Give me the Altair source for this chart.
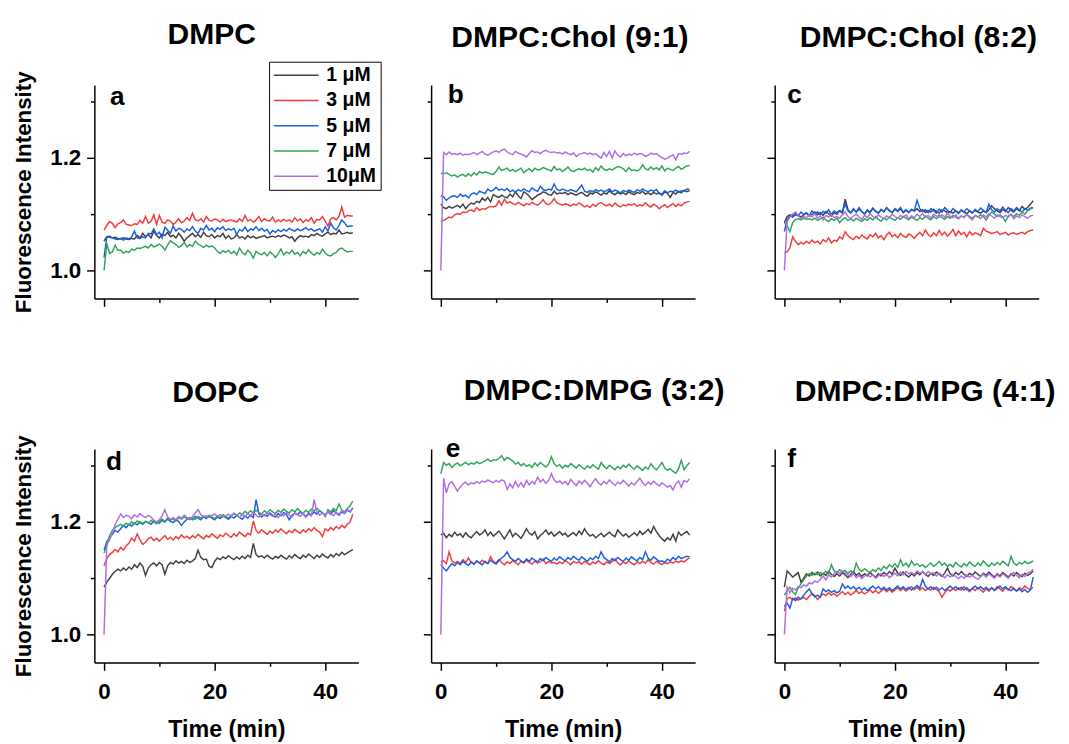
import altair as alt
import pandas as pd

FONT = "Liberation Sans"

TIME_MIN = [0, 0.5, 1, 1.5, 2, 2.5, 3, 3.5, 4, 4.5,
            5, 5.5, 6, 6.5, 7, 7.5, 8, 8.5, 9, 9.5,
            10, 10.5, 11, 11.5, 12, 12.5, 13, 13.5, 14, 14.5,
            15, 15.5, 16, 16.5, 17, 17.5, 18, 18.5, 19, 19.5,
            20, 20.5, 21, 21.5, 22, 22.5, 23, 23.5, 24, 24.5,
            25, 25.5, 26, 26.5, 27, 27.5, 28, 28.5, 29, 29.5,
            30, 30.5, 31, 31.5, 32, 32.5, 33, 33.5, 34, 34.5,
            35, 35.5, 36, 36.5, 37, 37.5, 38, 38.5, 39, 39.5,
            40, 40.5, 41, 41.5, 42, 42.5, 43, 43.5, 44, 44.5, 45]

CONCS = ["1 μM", "3 μM", "5 μM", "7 μM", "10μM"]
COLORS = ["#404040", "#f03c3c", "#1a5fe0", "#2ea55a", "#b06de0"]

PANEL_KEYS = ["a", "b", "c", "d", "e", "f"]
PANEL_TITLES = ["DMPC", "DMPC:Chol (9:1)", "DMPC:Chol (8:2)",
                "DOPC", "DMPC:DMPG (3:2)", "DMPC:DMPG (4:1)"]
Y_TICKS = [1.0, 1.1, 1.2, 1.3]
X_TICKS = [0, 10, 20, 30, 40]

# ---- panel a : DMPC ----
A_1UM = [1.052, 1.060, 1.061, 1.058, 1.059, 1.057, 1.056, 1.058, 1.056, 1.055,
         1.057, 1.056, 1.062, 1.058, 1.066, 1.060, 1.064, 1.058, 1.070, 1.062,
         1.058, 1.065, 1.062, 1.068, 1.060, 1.063, 1.058, 1.066, 1.060, 1.052,
         1.058, 1.062, 1.066, 1.060, 1.064, 1.059, 1.068, 1.062, 1.060, 1.064,
         1.058, 1.062, 1.060, 1.066, 1.057, 1.062, 1.056, 1.058, 1.064, 1.058,
         1.060, 1.056, 1.062, 1.058, 1.061, 1.057, 1.059, 1.060, 1.062, 1.058,
         1.060, 1.061, 1.059, 1.062, 1.060, 1.063, 1.061, 1.058, 1.060, 1.052,
         1.058, 1.062, 1.060, 1.061, 1.059, 1.064, 1.062, 1.066, 1.063, 1.061,
         1.065, 1.068, 1.064, 1.066, 1.065, 1.072, 1.065, 1.066, 1.068, 1.066, 1.067]
A_3UM = [1.072, 1.080, 1.087, 1.084, 1.076, 1.083, 1.085, 1.090, 1.082, 1.081,
         1.080, 1.083, 1.082, 1.089, 1.084, 1.096, 1.084, 1.087, 1.099, 1.082,
         1.098, 1.086, 1.084, 1.090, 1.088, 1.082, 1.086, 1.092, 1.085, 1.088,
         1.094, 1.089, 1.102, 1.090, 1.088, 1.092, 1.086, 1.096, 1.089, 1.088,
         1.092, 1.090, 1.086, 1.091, 1.087, 1.089, 1.090, 1.088, 1.086, 1.092,
         1.087, 1.098, 1.088, 1.091, 1.086, 1.090, 1.096, 1.087, 1.092, 1.089,
         1.088, 1.095, 1.086, 1.090, 1.087, 1.091, 1.088, 1.090, 1.086, 1.094,
         1.088, 1.092, 1.085, 1.090, 1.088, 1.094, 1.084, 1.091, 1.090, 1.096,
         1.088, 1.079, 1.092, 1.094, 1.090, 1.096, 1.113, 1.095, 1.098, 1.097, 1.097]
A_5UM = [1.023, 1.060, 1.059, 1.058, 1.056, 1.055, 1.057, 1.054, 1.058, 1.056,
         1.060, 1.070, 1.058, 1.057, 1.060, 1.058, 1.066, 1.065, 1.074, 1.064,
         1.068, 1.058, 1.077, 1.072, 1.066, 1.079, 1.070, 1.075, 1.073, 1.068,
         1.074, 1.071, 1.078, 1.070, 1.066, 1.075, 1.072, 1.080, 1.072, 1.075,
         1.069, 1.076, 1.073, 1.078, 1.071, 1.074, 1.072, 1.075, 1.064, 1.073,
         1.070, 1.077, 1.069, 1.074, 1.072, 1.078, 1.071, 1.075, 1.070, 1.073,
         1.065, 1.071, 1.068, 1.072, 1.069, 1.073, 1.070, 1.075, 1.072, 1.070,
         1.074, 1.071, 1.073, 1.076, 1.072, 1.074, 1.070, 1.072, 1.074, 1.068,
         1.078, 1.070, 1.084, 1.076, 1.072, 1.080, 1.090, 1.085, 1.078, 1.079, 1.079]
A_7UM = [1.000, 1.048, 1.030, 1.033, 1.045, 1.036, 1.036, 1.031, 1.034, 1.032,
         1.038, 1.036, 1.040, 1.039, 1.041, 1.043, 1.040, 1.046, 1.042, 1.044,
         1.047, 1.043, 1.036, 1.045, 1.053, 1.049, 1.046, 1.041, 1.044, 1.050,
         1.042, 1.046, 1.043, 1.052, 1.047, 1.044, 1.041, 1.045, 1.042, 1.044,
         1.040, 1.034, 1.030, 1.035, 1.032, 1.036, 1.030, 1.034, 1.028, 1.040,
         1.032, 1.028, 1.036, 1.031, 1.022, 1.034, 1.030, 1.028, 1.032, 1.026,
         1.033, 1.029, 1.023, 1.030, 1.038, 1.028, 1.033, 1.030, 1.036, 1.029,
         1.032, 1.026, 1.034, 1.030, 1.037, 1.031, 1.027, 1.032, 1.029, 1.038,
         1.031, 1.027, 1.026, 1.030, 1.032, 1.038, 1.040, 1.036, 1.033, 1.034, 1.034]

# ---- panel b : DMPC:Chol (9:1) ----
B_1UM = [1.118, 1.112, 1.110, 1.114, 1.111, 1.113, 1.116, 1.112, 1.118, 1.110,
         1.116, 1.120, 1.118, 1.123, 1.121, 1.129, 1.124, 1.130, 1.122, 1.135,
         1.132, 1.130, 1.134, 1.131, 1.129, 1.136, 1.131, 1.140, 1.133, 1.128,
         1.140, 1.137, 1.132, 1.126, 1.130, 1.134, 1.136, 1.140, 1.138, 1.135,
         1.134, 1.141, 1.136, 1.138, 1.137, 1.139, 1.135, 1.138, 1.136, 1.134,
         1.137, 1.139, 1.135, 1.132, 1.138, 1.136, 1.140, 1.137, 1.134, 1.138,
         1.136, 1.142, 1.137, 1.135, 1.139, 1.136, 1.138, 1.135, 1.140, 1.137,
         1.135, 1.139, 1.137, 1.141, 1.136, 1.138, 1.135, 1.139, 1.136, 1.138,
         1.134, 1.140, 1.137, 1.130, 1.139, 1.136, 1.141, 1.138, 1.143, 1.140, 1.142]
B_3UM = [1.087, 1.089, 1.092, 1.095, 1.094, 1.099, 1.101, 1.100, 1.104, 1.103,
         1.106, 1.108, 1.105, 1.112, 1.107, 1.110, 1.109, 1.112, 1.114, 1.113,
         1.115, 1.124, 1.116, 1.127, 1.120, 1.122, 1.119, 1.117, 1.121, 1.118,
         1.115, 1.119, 1.117, 1.121, 1.118, 1.116, 1.120, 1.126, 1.119, 1.117,
         1.121, 1.128, 1.120, 1.118, 1.116, 1.119, 1.117, 1.115, 1.118, 1.116,
         1.120, 1.117, 1.113, 1.116, 1.112, 1.118, 1.114, 1.119, 1.121, 1.117,
         1.115, 1.118, 1.114, 1.120, 1.116, 1.113, 1.117, 1.115, 1.118, 1.116,
         1.119, 1.114, 1.117, 1.115, 1.120, 1.116, 1.113, 1.118, 1.115, 1.110,
         1.114, 1.117, 1.112, 1.116, 1.119, 1.114, 1.118, 1.115, 1.120, 1.122, 1.123]
B_5UM = [1.133, 1.131, 1.125, 1.129, 1.132, 1.133, 1.130, 1.136, 1.132, 1.134,
         1.129, 1.136, 1.138, 1.135, 1.141, 1.139, 1.137, 1.145, 1.141, 1.143,
         1.148, 1.143, 1.145, 1.142, 1.146, 1.140, 1.143, 1.139, 1.144, 1.141,
         1.145, 1.142, 1.140, 1.147, 1.143, 1.141, 1.150, 1.144, 1.142, 1.145,
         1.143, 1.154, 1.144, 1.142, 1.145, 1.143, 1.141, 1.144, 1.142, 1.140,
         1.146, 1.152, 1.141, 1.139, 1.142, 1.140, 1.144, 1.141, 1.143, 1.140,
         1.142, 1.145, 1.140, 1.143, 1.141, 1.138, 1.142, 1.140, 1.143, 1.141,
         1.139, 1.144, 1.141, 1.145, 1.142, 1.140, 1.143, 1.141, 1.144, 1.137,
         1.136, 1.142, 1.138, 1.141, 1.140, 1.143, 1.139, 1.142, 1.141, 1.145, 1.144]
B_7UM = [1.173, 1.172, 1.174, 1.171, 1.168, 1.170, 1.166, 1.169, 1.171, 1.167,
         1.172, 1.168, 1.174, 1.170, 1.176, 1.173, 1.175, 1.174, 1.172, 1.171,
         1.176, 1.184, 1.178, 1.180, 1.182, 1.177, 1.180, 1.176, 1.179, 1.182,
         1.174, 1.178, 1.181, 1.176, 1.182, 1.179, 1.180, 1.183, 1.181, 1.179,
         1.177, 1.185, 1.179, 1.181, 1.176, 1.180, 1.184, 1.178, 1.176, 1.179,
         1.181, 1.179, 1.182, 1.178, 1.180, 1.175, 1.183, 1.178, 1.186, 1.180,
         1.178, 1.181, 1.179, 1.182, 1.185, 1.184, 1.181, 1.176, 1.183, 1.178,
         1.179, 1.177, 1.180, 1.188, 1.181, 1.179, 1.184, 1.180, 1.183, 1.179,
         1.186, 1.177, 1.182, 1.180, 1.178, 1.182, 1.185, 1.180, 1.183, 1.186, 1.187]
B_10UM = [1.000, 1.210, 1.206, 1.211, 1.207, 1.208, 1.206, 1.209, 1.205, 1.207,
          1.206, 1.208, 1.210, 1.206, 1.209, 1.212, 1.207, 1.205, 1.208, 1.211,
          1.213, 1.210, 1.214, 1.216, 1.211, 1.208, 1.206, 1.212, 1.209, 1.207,
          1.205, 1.202, 1.208, 1.213, 1.210, 1.211, 1.208, 1.212, 1.214, 1.211,
          1.210, 1.211, 1.209, 1.210, 1.207, 1.211, 1.208, 1.206, 1.209, 1.203,
          1.207, 1.208, 1.210, 1.207, 1.209, 1.206, 1.208, 1.204, 1.200, 1.210,
          1.203, 1.212, 1.200, 1.213, 1.205, 1.202, 1.208, 1.204, 1.207, 1.205,
          1.209, 1.206, 1.208, 1.207, 1.203, 1.205, 1.209, 1.207, 1.208, 1.204,
          1.201, 1.198, 1.200, 1.203, 1.206, 1.197, 1.208, 1.207, 1.209, 1.208, 1.212]

# ---- panel c : DMPC:Chol (8:2) ----
C_1UM = [1.085, 1.096, 1.099, 1.097, 1.101, 1.098, 1.095, 1.099, 1.102, 1.097,
         1.100, 1.104, 1.099, 1.103, 1.098, 1.105, 1.101, 1.097, 1.103, 1.100,
         1.106, 1.102, 1.127, 1.108, 1.103, 1.110, 1.104, 1.109, 1.105, 1.101,
         1.107, 1.103, 1.111, 1.105, 1.102, 1.108, 1.104, 1.112, 1.106, 1.103,
         1.109, 1.105, 1.110, 1.103, 1.107, 1.104, 1.108, 1.106, 1.110, 1.105,
         1.108, 1.103, 1.107, 1.104, 1.109, 1.105, 1.102, 1.108, 1.106, 1.103,
         1.105, 1.102, 1.106, 1.103, 1.107, 1.104, 1.101, 1.106, 1.103, 1.107,
         1.104, 1.102, 1.106, 1.103, 1.108, 1.115, 1.110, 1.106, 1.103, 1.109,
         1.105, 1.112, 1.107, 1.104, 1.110, 1.106, 1.114, 1.109, 1.112, 1.118, 1.124]
C_3UM = [1.032, 1.033, 1.040, 1.060, 1.052, 1.046, 1.050, 1.047, 1.052, 1.048,
         1.054, 1.049, 1.052, 1.047, 1.055, 1.051, 1.058, 1.049, 1.054, 1.052,
         1.060, 1.056, 1.069, 1.062, 1.058, 1.055, 1.061, 1.057, 1.063, 1.059,
         1.056, 1.064, 1.060, 1.066, 1.058, 1.062, 1.055, 1.063, 1.068, 1.060,
         1.064, 1.058, 1.066, 1.061, 1.059, 1.065, 1.062, 1.057, 1.063, 1.068,
         1.062, 1.072, 1.064, 1.060, 1.067, 1.062, 1.071, 1.063, 1.068, 1.061,
         1.066, 1.073, 1.062, 1.070, 1.064, 1.068, 1.060, 1.069, 1.063, 1.067,
         1.065, 1.062, 1.075, 1.070, 1.068, 1.066, 1.067, 1.069, 1.064, 1.066,
         1.068, 1.063, 1.066, 1.067, 1.064, 1.066, 1.068, 1.065, 1.069, 1.071, 1.072]
C_5UM = [1.069, 1.090, 1.098, 1.095, 1.099, 1.097, 1.104, 1.100, 1.103, 1.098,
         1.106, 1.101, 1.104, 1.099, 1.105, 1.102, 1.108, 1.100, 1.106, 1.103,
         1.107, 1.104, 1.118, 1.106, 1.102, 1.109, 1.104, 1.112, 1.105, 1.100,
         1.108, 1.104, 1.110, 1.106, 1.102, 1.109, 1.105, 1.111, 1.107, 1.103,
         1.110, 1.106, 1.112, 1.104, 1.108, 1.103, 1.109, 1.106, 1.125, 1.110,
         1.105, 1.108, 1.103, 1.110, 1.106, 1.102, 1.109, 1.104, 1.112, 1.107,
         1.103, 1.110, 1.106, 1.101, 1.108, 1.104, 1.110, 1.106, 1.102, 1.109,
         1.105, 1.111, 1.107, 1.103, 1.118, 1.108, 1.104, 1.110, 1.106, 1.113,
         1.107, 1.103, 1.110, 1.106, 1.112, 1.108, 1.104, 1.110, 1.107, 1.111, 1.112]
C_7UM = [1.084, 1.080, 1.069, 1.085, 1.091, 1.092, 1.090, 1.093, 1.091, 1.092,
         1.090, 1.093, 1.089, 1.092, 1.095, 1.090, 1.087, 1.092, 1.089, 1.093,
         1.085, 1.091, 1.094, 1.089, 1.092, 1.088, 1.093, 1.090, 1.087, 1.092,
         1.089, 1.094, 1.090, 1.096, 1.091, 1.088, 1.093, 1.090, 1.095, 1.092,
         1.089, 1.094, 1.091, 1.096, 1.093, 1.090, 1.095, 1.092, 1.089, 1.094,
         1.091, 1.097, 1.093, 1.090, 1.096, 1.092, 1.099, 1.094, 1.091, 1.096,
         1.093, 1.098, 1.095, 1.092, 1.097, 1.094, 1.100, 1.096, 1.093, 1.098,
         1.095, 1.099, 1.096, 1.090, 1.098, 1.104, 1.100, 1.096, 1.099, 1.095,
         1.087, 1.097, 1.100, 1.096, 1.101, 1.098, 1.104, 1.100, 1.106, 1.109, 1.112]
C_10UM = [1.000, 1.087, 1.095, 1.100, 1.104, 1.098, 1.092, 1.096, 1.094, 1.099,
          1.095, 1.101, 1.093, 1.097, 1.090, 1.098, 1.095, 1.100, 1.094, 1.096,
          1.093, 1.099, 1.104, 1.096, 1.092, 1.097, 1.100, 1.095, 1.091, 1.098,
          1.094, 1.101, 1.096, 1.093, 1.099, 1.095, 1.092, 1.097, 1.094, 1.100,
          1.096, 1.093, 1.098, 1.095, 1.099, 1.092, 1.097, 1.094, 1.100, 1.096,
          1.101, 1.095, 1.098, 1.093, 1.100, 1.097, 1.094, 1.099, 1.095, 1.102,
          1.096, 1.094, 1.099, 1.093, 1.097, 1.095, 1.100, 1.094, 1.090, 1.098,
          1.096, 1.092, 1.099, 1.095, 1.101, 1.097, 1.093, 1.099, 1.096, 1.094,
          1.098, 1.095, 1.100, 1.092, 1.097, 1.094, 1.099, 1.096, 1.093, 1.097, 1.098]

# ---- panel d : DOPC ----
D_1UM = [1.084, 1.093, 1.100, 1.107, 1.112, 1.116, 1.113, 1.118, 1.114, 1.120,
         1.116, 1.124, 1.119, 1.127, 1.121, 1.105, 1.118, 1.124, 1.127, 1.122,
         1.128, 1.124, 1.107, 1.122, 1.128, 1.125, 1.131, 1.127, 1.130, 1.126,
         1.132, 1.128, 1.131, 1.135, 1.150, 1.137, 1.133, 1.134, 1.121, 1.119,
         1.130, 1.136, 1.133, 1.138, 1.135, 1.140, 1.136, 1.133, 1.138, 1.134,
         1.139, 1.135, 1.141, 1.137, 1.162, 1.142, 1.138, 1.140, 1.136, 1.141,
         1.137, 1.134, 1.139, 1.136, 1.141, 1.137, 1.134, 1.140, 1.136, 1.142,
         1.138, 1.135, 1.141, 1.137, 1.143, 1.139, 1.135, 1.141, 1.137, 1.143,
         1.139, 1.136, 1.142, 1.138, 1.144, 1.140, 1.146, 1.142, 1.145, 1.148, 1.151]
D_3UM = [1.122, 1.135, 1.142, 1.146, 1.151, 1.147, 1.155, 1.150, 1.158, 1.162,
         1.171, 1.166, 1.179, 1.168, 1.160, 1.164, 1.170, 1.173, 1.167, 1.171,
         1.166, 1.171, 1.176, 1.169, 1.173, 1.168, 1.174, 1.170, 1.177, 1.172,
         1.175, 1.170, 1.176, 1.172, 1.178, 1.174, 1.170, 1.176, 1.173, 1.179,
         1.175, 1.171, 1.177, 1.174, 1.180, 1.176, 1.173, 1.179, 1.175, 1.182,
         1.178, 1.174, 1.180, 1.177, 1.202, 1.185, 1.180, 1.186, 1.182, 1.178,
         1.184, 1.180, 1.186, 1.182, 1.188, 1.183, 1.179, 1.185, 1.181, 1.187,
         1.183, 1.180, 1.186, 1.182, 1.188, 1.184, 1.190, 1.185, 1.182, 1.174,
         1.188, 1.184, 1.190, 1.186, 1.192, 1.188, 1.194, 1.190, 1.196, 1.200, 1.214]
D_5UM = [1.150, 1.165, 1.172, 1.178, 1.185, 1.182, 1.188, 1.194, 1.190, 1.196,
         1.193, 1.198, 1.195, 1.200, 1.197, 1.201, 1.199, 1.196, 1.202, 1.200,
         1.198, 1.203, 1.200, 1.205, 1.201, 1.199, 1.204, 1.201, 1.194, 1.200,
         1.205, 1.208, 1.204, 1.210, 1.207, 1.204, 1.209, 1.206, 1.211, 1.207,
         1.204, 1.209, 1.206, 1.211, 1.208, 1.205, 1.210, 1.207, 1.212, 1.208,
         1.205, 1.211, 1.207, 1.212, 1.208, 1.240, 1.215, 1.209, 1.213, 1.210,
         1.216, 1.212, 1.209, 1.215, 1.211, 1.217, 1.213, 1.204, 1.212, 1.216,
         1.213, 1.218, 1.214, 1.210, 1.216, 1.212, 1.218, 1.214, 1.220, 1.216,
         1.212, 1.218, 1.214, 1.220, 1.216, 1.212, 1.218, 1.215, 1.221, 1.218, 1.225]
D_7UM = [1.145, 1.158, 1.176, 1.185, 1.190, 1.193, 1.196, 1.192, 1.198, 1.195,
         1.200, 1.197, 1.202, 1.199, 1.196, 1.201, 1.198, 1.203, 1.200, 1.197,
         1.202, 1.205, 1.201, 1.207, 1.203, 1.206, 1.202, 1.208, 1.205, 1.209,
         1.206, 1.204, 1.208, 1.205, 1.210, 1.207, 1.211, 1.208, 1.212, 1.209,
         1.206, 1.211, 1.208, 1.213, 1.210, 1.207, 1.212, 1.215, 1.211, 1.216,
         1.213, 1.219, 1.215, 1.220, 1.216, 1.221, 1.217, 1.214, 1.220, 1.216,
         1.222, 1.218, 1.215, 1.221, 1.217, 1.223, 1.219, 1.216, 1.222, 1.218,
         1.224, 1.219, 1.215, 1.221, 1.217, 1.223, 1.219, 1.225, 1.220, 1.217,
         1.210, 1.222, 1.218, 1.224, 1.220, 1.232, 1.221, 1.218, 1.224, 1.229, 1.237]
D_10UM = [1.000, 1.160, 1.168, 1.182, 1.195, 1.205, 1.214, 1.208, 1.212, 1.210,
          1.206, 1.213, 1.209, 1.215, 1.211, 1.208, 1.212, 1.209, 1.203, 1.200,
          1.204, 1.211, 1.222, 1.209, 1.205, 1.208, 1.204, 1.210, 1.207, 1.212,
          1.208, 1.205, 1.210, 1.216, 1.222, 1.213, 1.209, 1.211, 1.208, 1.212,
          1.214, 1.210, 1.213, 1.209, 1.211, 1.214, 1.210, 1.216, 1.212, 1.208,
          1.213, 1.210, 1.215, 1.211, 1.218, 1.212, 1.209, 1.214, 1.211, 1.216,
          1.213, 1.210, 1.215, 1.208, 1.214, 1.211, 1.217, 1.212, 1.209, 1.216,
          1.213, 1.210, 1.216, 1.208, 1.214, 1.211, 1.240, 1.218, 1.212, 1.216,
          1.213, 1.219, 1.215, 1.211, 1.217, 1.214, 1.220, 1.216, 1.222, 1.219, 1.225]

# ---- panel e : DMPC:DMPG (3:2) ----
E_1UM = [1.177, 1.180, 1.172, 1.178, 1.174, 1.182, 1.176, 1.179, 1.173, 1.181,
         1.175, 1.172, 1.178, 1.183, 1.177, 1.180, 1.186, 1.176, 1.182, 1.175,
         1.179, 1.184, 1.177, 1.170, 1.178, 1.186, 1.174, 1.180, 1.176, 1.171,
         1.179, 1.188, 1.180, 1.177, 1.183, 1.170, 1.176, 1.180, 1.186, 1.178,
         1.182, 1.175, 1.179, 1.183, 1.177, 1.180, 1.174, 1.178, 1.181, 1.176,
         1.184, 1.178, 1.188, 1.180, 1.175, 1.178, 1.172, 1.176, 1.180, 1.174,
         1.178, 1.182, 1.177, 1.174, 1.186, 1.180, 1.175, 1.179, 1.173, 1.177,
         1.181, 1.176, 1.184, 1.178, 1.182, 1.187, 1.180, 1.192, 1.183, 1.176,
         1.170, 1.166, 1.172, 1.168, 1.178, 1.166, 1.182, 1.176, 1.180, 1.183, 1.177]
E_3UM = [1.128, 1.131, 1.126, 1.147, 1.131, 1.127, 1.130, 1.126, 1.133, 1.128,
         1.136, 1.128, 1.125, 1.130, 1.127, 1.132, 1.128, 1.126, 1.138, 1.130,
         1.127, 1.133, 1.128, 1.124, 1.129, 1.126, 1.131, 1.128, 1.124, 1.130,
         1.127, 1.132, 1.128, 1.125, 1.130, 1.127, 1.129, 1.134, 1.126, 1.130,
         1.127, 1.128, 1.125, 1.129, 1.126, 1.131, 1.128, 1.124, 1.130, 1.127,
         1.129, 1.125, 1.130, 1.127, 1.124, 1.129, 1.126, 1.131, 1.127, 1.124,
         1.129, 1.126, 1.130, 1.134, 1.127, 1.124, 1.129, 1.126, 1.131, 1.127,
         1.124, 1.129, 1.126, 1.130, 1.127, 1.133, 1.128, 1.125, 1.130, 1.127,
         1.124, 1.128, 1.126, 1.129, 1.127, 1.130, 1.128, 1.131, 1.129, 1.133, 1.136]
E_5UM = [1.125, 1.118, 1.113, 1.120, 1.126, 1.122, 1.128, 1.124, 1.130, 1.126,
         1.123, 1.129, 1.125, 1.131, 1.127, 1.124, 1.130, 1.126, 1.132, 1.128,
         1.125, 1.131, 1.136, 1.140, 1.147, 1.137, 1.133, 1.130, 1.135, 1.131,
         1.128, 1.134, 1.130, 1.136, 1.132, 1.129, 1.135, 1.131, 1.137, 1.133,
         1.130, 1.136, 1.132, 1.138, 1.134, 1.131, 1.137, 1.133, 1.139, 1.135,
         1.132, 1.138, 1.134, 1.130, 1.136, 1.133, 1.139, 1.135, 1.147, 1.137,
         1.133, 1.129, 1.135, 1.131, 1.137, 1.133, 1.130, 1.136, 1.132, 1.138,
         1.134, 1.131, 1.137, 1.133, 1.147, 1.136, 1.132, 1.138, 1.134, 1.130,
         1.131, 1.128, 1.134, 1.131, 1.137, 1.133, 1.139, 1.135, 1.137, 1.139, 1.138]
E_7UM = [1.286, 1.306, 1.301, 1.304, 1.297, 1.302, 1.305, 1.300, 1.303, 1.306,
         1.302, 1.305, 1.303, 1.307, 1.304, 1.306, 1.309, 1.312, 1.308, 1.311,
         1.310, 1.313, 1.318, 1.310, 1.315, 1.312, 1.309, 1.303, 1.306, 1.300,
         1.304, 1.299, 1.302, 1.297, 1.305, 1.300, 1.306, 1.302, 1.298, 1.303,
         1.316, 1.304, 1.299, 1.302, 1.296, 1.301, 1.298, 1.304, 1.300, 1.296,
         1.302, 1.298, 1.294, 1.300, 1.296, 1.302, 1.298, 1.294, 1.306, 1.299,
         1.295, 1.301, 1.297, 1.293, 1.299, 1.295, 1.301, 1.297, 1.303, 1.298,
         1.294, 1.300, 1.296, 1.292, 1.298, 1.294, 1.304, 1.297, 1.293, 1.299,
         1.306, 1.296, 1.292, 1.295, 1.290, 1.287, 1.295, 1.310, 1.293, 1.300, 1.306]
E_10UM = [1.000, 1.278, 1.252, 1.268, 1.272, 1.264, 1.255, 1.262, 1.268, 1.271,
          1.266, 1.270, 1.268, 1.272, 1.269, 1.273, 1.271, 1.275, 1.272, 1.270,
          1.274, 1.271, 1.275, 1.273, 1.258, 1.268, 1.261, 1.272, 1.263, 1.270,
          1.262, 1.274, 1.266, 1.272, 1.268, 1.280, 1.271, 1.276, 1.269, 1.274,
          1.286, 1.275, 1.270, 1.273, 1.268, 1.272, 1.266, 1.276, 1.270, 1.265,
          1.273, 1.268, 1.274, 1.269, 1.263, 1.271, 1.277, 1.270, 1.266, 1.272,
          1.268, 1.275, 1.270, 1.265, 1.271, 1.268, 1.274, 1.269, 1.264, 1.270,
          1.266, 1.272, 1.278, 1.270, 1.265, 1.271, 1.267, 1.273, 1.268, 1.264,
          1.270, 1.266, 1.262, 1.265, 1.257, 1.268, 1.273, 1.262, 1.274, 1.271, 1.277]

# ---- panel f : DMPC:DMPG (4:1) ----
F_1UM = [1.084, 1.113, 1.108, 1.102, 1.106, 1.110, 1.093, 1.100, 1.108, 1.104,
         1.110, 1.106, 1.111, 1.104, 1.109, 1.105, 1.112, 1.107, 1.103, 1.108,
         1.104, 1.110, 1.106, 1.101, 1.107, 1.112, 1.105, 1.109, 1.103, 1.108,
         1.104, 1.110, 1.106, 1.102, 1.108, 1.104, 1.110, 1.106, 1.112, 1.107,
         1.118, 1.109, 1.105, 1.111, 1.106, 1.102, 1.108, 1.104, 1.110, 1.106,
         1.112, 1.107, 1.103, 1.109, 1.105, 1.111, 1.107, 1.103, 1.109, 1.118,
         1.108, 1.104, 1.110, 1.106, 1.112, 1.107, 1.103, 1.109, 1.105, 1.111,
         1.107, 1.103, 1.109, 1.105, 1.111, 1.106, 1.102, 1.108, 1.104, 1.110,
         1.106, 1.102, 1.108, 1.104, 1.110, 1.106, 1.103, 1.109, 1.105, 1.108, 1.113]
F_3UM = [1.041, 1.064, 1.066, 1.062, 1.065, 1.061, 1.064, 1.066, 1.062, 1.068,
         1.073, 1.069, 1.062, 1.068, 1.072, 1.069, 1.074, 1.070, 1.073, 1.068,
         1.072, 1.076, 1.071, 1.075, 1.070, 1.074, 1.078, 1.073, 1.076, 1.072,
         1.075, 1.079, 1.074, 1.078, 1.073, 1.077, 1.081, 1.076, 1.080, 1.075,
         1.079, 1.083, 1.078, 1.082, 1.077, 1.081, 1.085, 1.080, 1.084, 1.079,
         1.083, 1.078, 1.082, 1.079, 1.084, 1.080, 1.076, 1.066, 1.074, 1.080,
         1.077, 1.082, 1.078, 1.083, 1.079, 1.085, 1.080, 1.076, 1.082, 1.078,
         1.083, 1.079, 1.075, 1.081, 1.077, 1.083, 1.079, 1.085, 1.081, 1.077,
         1.083, 1.079, 1.085, 1.081, 1.077, 1.083, 1.080, 1.086, 1.082, 1.080, 1.084]
F_5UM = [1.050, 1.056, 1.047, 1.064, 1.060, 1.066, 1.063, 1.070, 1.076, 1.081,
         1.072, 1.067, 1.070, 1.066, 1.081, 1.076, 1.079, 1.075, 1.078, 1.074,
         1.077, 1.090, 1.082, 1.086, 1.081, 1.085, 1.080, 1.084, 1.079, 1.083,
         1.078, 1.082, 1.086, 1.081, 1.085, 1.080, 1.084, 1.079, 1.083, 1.078,
         1.082, 1.086, 1.081, 1.085, 1.080, 1.084, 1.079, 1.083, 1.087, 1.082,
         1.098, 1.086, 1.081, 1.085, 1.080, 1.084, 1.079, 1.083, 1.078, 1.082,
         1.086, 1.081, 1.085, 1.080, 1.084, 1.079, 1.083, 1.078, 1.082, 1.086,
         1.081, 1.085, 1.080, 1.084, 1.079, 1.083, 1.078, 1.082, 1.086, 1.081,
         1.085, 1.080, 1.078, 1.082, 1.077, 1.081, 1.076, 1.080, 1.075, 1.079, 1.102]
F_7UM = [1.070, 1.078, 1.084, 1.076, 1.071, 1.082, 1.090, 1.097, 1.104, 1.108,
         1.105, 1.109, 1.106, 1.110, 1.107, 1.112, 1.108, 1.124, 1.113, 1.110,
         1.115, 1.111, 1.114, 1.109, 1.113, 1.110, 1.127, 1.116, 1.112, 1.117,
         1.113, 1.110, 1.115, 1.112, 1.118, 1.114, 1.121, 1.117, 1.124, 1.120,
         1.126, 1.119, 1.133, 1.122, 1.127, 1.120, 1.131, 1.123, 1.126, 1.121,
         1.124, 1.119, 1.123, 1.127, 1.121, 1.125, 1.130, 1.123, 1.127, 1.121,
         1.125, 1.120, 1.128, 1.123, 1.120, 1.126, 1.122, 1.129, 1.124, 1.121,
         1.127, 1.123, 1.131, 1.125, 1.121, 1.127, 1.123, 1.128, 1.124, 1.130,
         1.126, 1.122, 1.139, 1.127, 1.123, 1.128, 1.125, 1.130, 1.126, 1.128, 1.131]
F_10UM = [1.000, 1.084, 1.074, 1.082, 1.079, 1.085, 1.083, 1.088, 1.086, 1.092,
          1.090, 1.095, 1.093, 1.098, 1.104, 1.097, 1.106, 1.102, 1.108, 1.112,
          1.109, 1.113, 1.110, 1.106, 1.103, 1.108, 1.101, 1.105, 1.099, 1.104,
          1.107, 1.102, 1.106, 1.100, 1.104, 1.108, 1.103, 1.107, 1.101, 1.105,
          1.109, 1.104, 1.111, 1.106, 1.112, 1.108, 1.110, 1.107, 1.113, 1.109,
          1.111, 1.106, 1.112, 1.108, 1.110, 1.104, 1.109, 1.105, 1.101, 1.106,
          1.102, 1.107, 1.103, 1.099, 1.104, 1.100, 1.106, 1.102, 1.105, 1.101,
          1.098, 1.103, 1.107, 1.102, 1.108, 1.104, 1.100, 1.106, 1.102, 1.108,
          1.104, 1.100, 1.106, 1.110, 1.105, 1.101, 1.107, 1.103, 1.109, 1.111, 1.116]

SERIES = {
    "a": [A_1UM, A_3UM, A_5UM, A_7UM, None],
    "b": [B_1UM, B_3UM, B_5UM, B_7UM, B_10UM],
    "c": [C_1UM, C_3UM, C_5UM, C_7UM, C_10UM],
    "d": [D_1UM, D_3UM, D_5UM, D_7UM, D_10UM],
    "e": [E_1UM, E_3UM, E_5UM, E_7UM, E_10UM],
    "f": [F_1UM, F_3UM, F_5UM, F_7UM, F_10UM],
}

rows = []
for key, lists in SERIES.items():
    for k, (conc, vals) in enumerate(zip(CONCS, lists)):
        if vals is None:
            continue
        for t, v in zip(TIME_MIN, vals):
            rows.append({"panel": key, "conc": conc, "k": k, "t": t, "v": v})
data = pd.DataFrame(rows)

# annotation placement (pixels inside each plot) and title tweaks
LETTER_X = [16, 17, 13, 12, 15, 13]
LETTER_Y = [21, 19, 19, 22, 8, 19]
TITLE_DX = [-15, 7, 12, -11, 32, 19]
TITLE_OFFSET = [11, 29, 29, 27, 29, 39]

Y_MAJOR = "datum.value == 1 || datum.value == 1.2"
X_MAJOR = "datum.value == 0 || datum.value == 20 || datum.value == 40"

color_scale = alt.Scale(domain=CONCS, range=COLORS)


def panel(i):
    key = PANEL_KEYS[i]
    row, col = divmod(i, 3)
    df = data[data["panel"] == key]

    x_axis_kw = dict(values=X_TICKS, tickSize={"condition": {"test": X_MAJOR, "value": 8}, "value": 4})
    if row == 1:
        x_axis_kw.update(labelExpr=f"{X_MAJOR} ? datum.label : ''", title="Time (min)",
                         labelPadding=11, titlePadding=15, titleFontSize=24)
    else:
        x_axis_kw.update(labels=False, title=None)

    y_axis_kw = dict(values=Y_TICKS, tickSize={"condition": {"test": Y_MAJOR, "value": 8}, "value": 4})
    if col == 0:
        y_axis_kw.update(labelExpr=f"{Y_MAJOR} ? format(datum.value, '.1f') : ''",
                         title="Fluorescence Intensity", labelPadding=6, titlePadding=15,
                         titleFontSize=23)
    else:
        y_axis_kw.update(labels=False, title=None)

    if i == 0:
        legend = alt.Legend(
            orient="none", legendX=180, legendY=-24, title=None,
            strokeColor="black", padding=4,
            symbolType="M-4.6,0H4.6", symbolSize=100, symbolStrokeWidth=1.5,
            symbolOffset=14, labelOffset=21,
            labelFont=FONT, labelFontSize=20, labelFontWeight="bold", labelColor="black",
            rowPadding=6,
        )
    else:
        legend = None

    lines = alt.Chart(df).mark_line(strokeWidth=1.5).encode(
        x=alt.X("t:Q", scale=alt.Scale(domain=[-1.75, 46], nice=False, zero=False),
                axis=alt.Axis(**x_axis_kw)),
        y=alt.Y("v:Q", scale=alt.Scale(domain=[0.95, 1.33], nice=False, zero=False),
                axis=alt.Axis(**y_axis_kw)),
        color=alt.Color("conc:N", scale=color_scale, sort=CONCS, legend=legend),
        detail="k:O",
    )

    letter = alt.Chart(pd.DataFrame({"letter": [key]})).mark_text(
        align="left", baseline="alphabetic", fontSize=27, fontWeight="bold",
        font=FONT, color="black",
    ).encode(x=alt.value(LETTER_X[i]), y=alt.value(LETTER_Y[i]), text="letter:N")

    return alt.layer(lines, letter).properties(
        width=272, height=220,
        title=alt.TitleParams(
            text=PANEL_TITLES[i], fontSize=31, fontWeight="bold", font=FONT,
            color="black", anchor="middle", dx=TITLE_DX[i], offset=TITLE_OFFSET[i],
        ),
    )


chart = (
    alt.concat(*[panel(i) for i in range(6)], columns=3,
               spacing={"row": 65, "column": 42})
    .resolve_scale(color="shared")
    .resolve_legend(color="independent")
    .properties(padding={"top": 0, "left": 5, "right": 5, "bottom": 5})
    .configure_view(stroke=None)
    .configure_axis(
        grid=False, domainColor="black", domainWidth=1.5, tickColor="black", tickWidth=1.5,
        labelFont=FONT, labelFontSize=23, labelFontWeight="bold", labelColor="black",
        titleFont=FONT, titleFontWeight="bold", titleColor="black",
    )
)

chart.save("out.html", embed_options={"renderer": "svg", "actions": False})
